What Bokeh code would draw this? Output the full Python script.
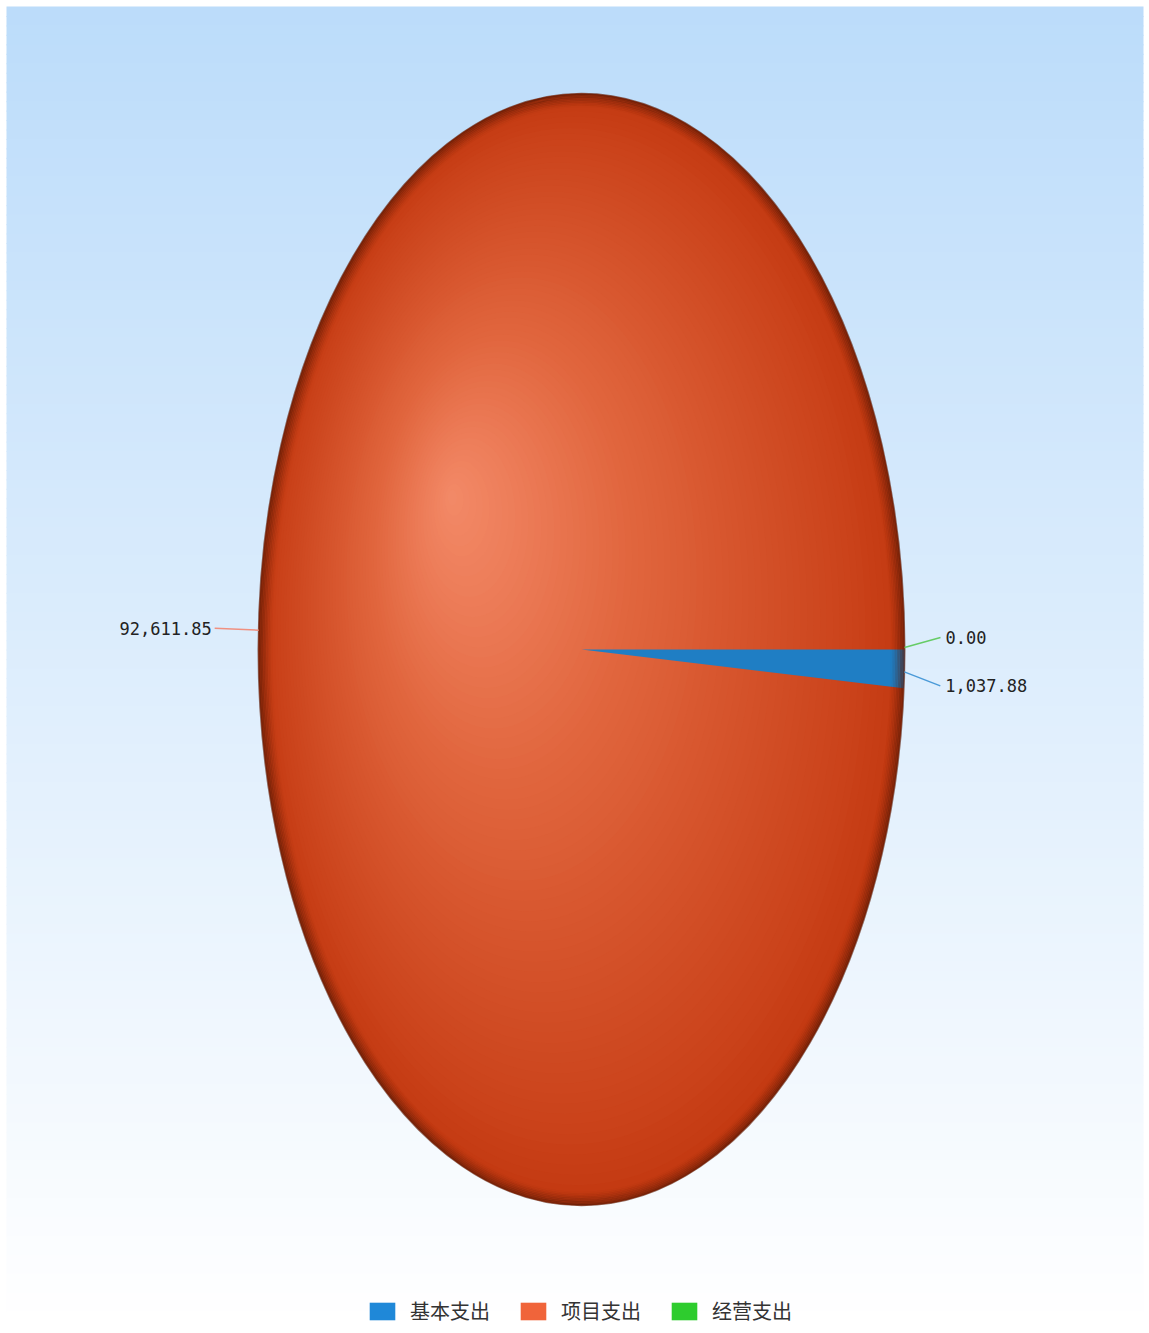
import math
from bokeh.plotting import figure
from bokeh.models import ColumnDataSource, Range1d, Legend, LegendItem
from bokeh.core.properties import value
from bokeh.embed import file_html
from bokeh.resources import INLINE

# ---------------- data ----------------
categories = ["基本支出", "项目支出", "经营支出"]
amounts = [1037.88, 92611.85, 0.00]
slice_colors = ["#1f7ec4", "#d24a1e", "#2fcf2f"]
legend_colors = ["#1f88d8", "#f0643a", "#2ecc2e"]
connector_colors = ["#4a9ad8", "#f09080", "#66cc66"]

# ---------------- layout / style ----------------
W, H = 1145, 1330
cx_px, cy_px = 581, 649          # pie centre in plot pixels (from top-left)
rx_px, ry_px = 323, 556          # ellipse radii in pixels
x0 = -cx_px / rx_px
x1 = (W - cx_px) / rx_px
y1 = cy_px / ry_px
y0 = -(H - cy_px) / ry_px

def dx_px(px):
    return (px - cx_px) / rx_px

def dy_px(py):
    return -(py - cy_px) / ry_px

p = figure(width=W, height=H, output_backend="svg", toolbar_location=None,
           x_range=Range1d(x0, x1), y_range=Range1d(y0, y1),
           min_border=0, outline_line_color=None)
p.axis.visible = False
p.grid.visible = False
p.background_fill_color = "#ffffff"
p.border_fill_color = "#ffffff"

# background vertical gradient (light blue -> white), framed from 6px to 1143px
top_c = (188, 220, 250)
bot_c = (255, 255, 255)
n_strip = 140
gl, gr, gt, gb = dx_px(6), dx_px(1143), dy_px(6), dy_px(H)
bl, br, bt, bb, bc = [], [], [], [], []
for i in range(n_strip):
    f = i / (n_strip - 1)
    ya = gt - (gt - gb) * i / n_strip
    yb = gt - (gt - gb) * (i + 1) / n_strip
    c = tuple(int(round(top_c[k] + (bot_c[k] - top_c[k]) * f)) for k in range(3))
    bl.append(gl); br.append(gr); bt.append(ya); bb.append(yb - 0.002)
    bc.append("#%02x%02x%02x" % c)
p.quad(left=bl, right=br, top=bt, bottom=bb, fill_color=bc, line_color=None)

# ---------------- pie slices (clockwise from 3 o'clock) ----------------
total = sum(amounts)
xs, ys, mids = [], [], []
start = 0.0
for a in amounts:
    sweep = 2 * math.pi * a / total
    end = start - sweep
    n = max(2, int(abs(sweep) / (2 * math.pi) * 720) + 2)
    px = [0.0]; py = [0.0]
    for j in range(n + 1):
        t = start + (end - start) * j / n
        px.append(math.cos(t)); py.append(math.sin(t))
    xs.append(px); ys.append(py)
    mids.append((start + end) / 2)
    start = end

src = ColumnDataSource(dict(xs=xs, ys=ys, color=slice_colors, name=categories))
base = p.patches("xs", "ys", source=src, fill_color="color", line_color=None)

# spherical shading over the pie (radial gradient)
hx = dx_px(450)
hy = dy_px(495)
stops = [(0.0, (243, 138, 104)), (0.15, (237, 125, 89)), (0.4, (225, 102, 62)),
         (0.7, (211, 80, 40)), (0.9, (202, 66, 26)), (1.0, (195, 57, 17))]

def col_at(s):
    for (s0, c0), (s1, c1) in zip(stops[:-1], stops[1:]):
        if s0 <= s <= s1:
            f = (s - s0) / (s1 - s0)
            return "#%02x%02x%02x" % tuple(int(round(c0[k] + (c1[k] - c0[k]) * f)) for k in range(3))
    return "#%02x%02x%02x" % stops[-1][1]

n_sh = 70
ex, ey, ew, eh, ec = [], [], [], [], []
for i in range(n_sh):
    s = 1.0 - i / n_sh
    ex.append(hx * (1 - s)); ey.append(hy * (1 - s))
    ew.append(2 * s); eh.append(2 * s)
    ec.append(col_at(s))
p.ellipse(x=ex, y=ey, width=ew, height=eh, fill_color=ec, line_color=None)

# small slices redrawn over the shading
small = ColumnDataSource(dict(xs=[xs[0], xs[2]], ys=[ys[0], ys[2]], color=[slice_colors[0], slice_colors[2]]))
p.patches("xs", "ys", source=small, fill_color="color", line_color=None)

# dark rim
for k in range(9):
    p.ellipse(x=0, y=0, width=2 * (1 - k * 1.6 / rx_px), height=2 * (1 - k * 1.6 / ry_px),
              fill_color=None, line_color="#5a1a06", line_alpha=0.65 * (1 - k / 9) ** 1.5, line_width=2)

# ---------------- labels with connectors ----------------
label_texts = ["{:,.2f}".format(a) for a in amounts]
# connector end offsets in pixels (dx, dy down) from slice edge point
offs = [(36, 14), (-44, -2), (36, -10)]
edge_shift = [(0, 3), (0, 0), (0, -2)]
sx0, sy0, sx1, sy1, tx, ty, talign = [], [], [], [], [], [], []
for i, m in enumerate(mids):
    ex0 = math.cos(m) + edge_shift[i][0] / rx_px
    ey0 = math.sin(m) - edge_shift[i][1] / ry_px
    ddx, ddy = offs[i]
    ex1 = ex0 + ddx / rx_px
    ey1 = ey0 - ddy / ry_px
    sx0.append(ex0); sy0.append(ey0); sx1.append(ex1); sy1.append(ey1)
    if ddx > 0:
        tx.append(ex1 + 5 / rx_px); talign.append("left")
    else:
        tx.append(ex1 - 3 / rx_px); talign.append("right")
    ty.append(ey1)
p.segment(x0=sx0, y0=sy0, x1=sx1, y1=sy1, line_color=connector_colors, line_width=1.5)
p.text(x=tx, y=ty, text=label_texts, text_align=talign, text_baseline="middle",
       text_font=value("DejaVu Sans Mono"), text_font_size="17px", text_color="#222222")

# ---------------- legend ----------------
leg_r = []
for i, name in enumerate(categories):
    r = p.rect(x=[0], y=[0], width=0, height=0, fill_color=legend_colors[i], line_color=None)
    leg_r.append(r)
legend = Legend(items=[LegendItem(label=categories[i], renderers=[leg_r[i]]) for i in range(3)],
                location=(366, 5), orientation="horizontal",
                glyph_width=32, glyph_height=22, label_standoff=12, spacing=27,
                padding=0, margin=0, background_fill_alpha=0, border_line_color=None,
                label_text_font="Noto Sans CJK SC", label_text_font_size="20px",
                label_text_color="#333333", label_height=24)
p.add_layout(legend)

open("out.html", "w").write(file_html(p, INLINE))
